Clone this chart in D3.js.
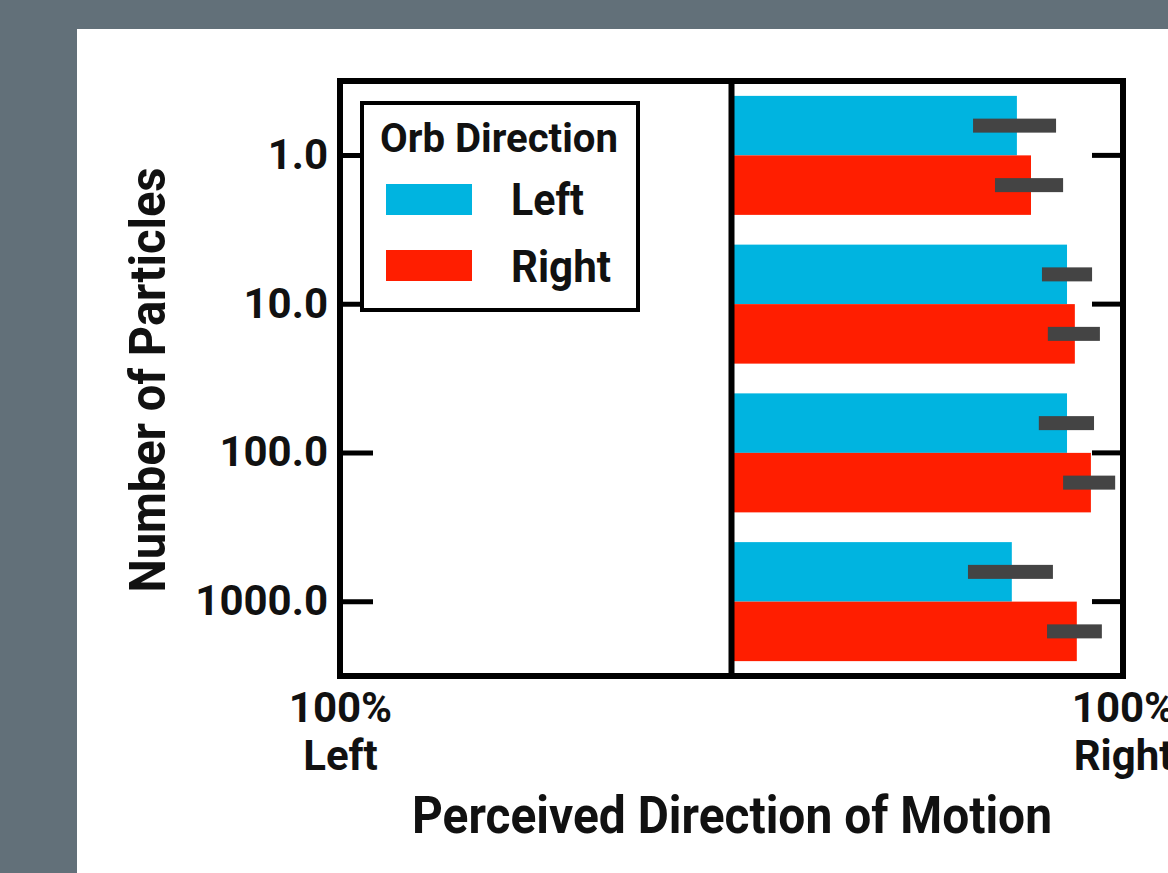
<!DOCTYPE html>
<html><head><meta charset="utf-8">
<script src="https://cdn.jsdelivr.net/npm/d3@7"></script>
<style>
html,body{margin:0;padding:0;background:#627079;overflow:hidden}
text{font-family:Roboto,"DejaVu Sans",sans-serif;font-weight:700;fill:#111}
</style>
</head><body>
<svg id="chart" width="1168" height="873"></svg>
<script>
// Number of particles per condition (y categories)
const categories = ["1.0", "10.0", "100.0", "1000.0"];
// Orb direction series
const seriesNames = ["Left", "Right"];
const seriesColors = ["#00b4e0", "#ff1e00"];
// Mean perceived direction: -1 = 100% Left, +1 = 100% Right
const leftMeans  = [0.729, 0.857, 0.857, 0.716];
const rightMeans = [0.765, 0.877, 0.918, 0.882];
// Error bar extents
const leftErrLow   = [0.617, 0.793, 0.785, 0.604];
const leftErrHigh  = [0.829, 0.921, 0.926, 0.821];
const rightErrLow  = [0.673, 0.808, 0.847, 0.806];
const rightErrHigh = [0.847, 0.941, 0.980, 0.946];
// x-axis end labels
const xTickValues = [-1, 1];
const xTickLines = [["100%", "Left"], ["100%", "Right"]];

const svg = d3.select("#chart");
svg.append("rect").attr("x", 77).attr("y", 29).attr("width", 1168 - 77).attr("height", 873 - 29).attr("fill", "#ffffff");

const L = 340, R = 1123, T = 81, B = 676;
const x = d3.scaleLinear().domain([-1, 1]).range([L, R]);
const y = d3.scaleBand().domain(categories).range([T, B]).paddingInner(0.2).paddingOuter(0.1);
const ySub = d3.scaleBand().domain(seriesNames).range([0, y.bandwidth()]);

const rows = categories.map((c, i) => ({
  cat: c,
  vals: [
    {s: "Left", m: leftMeans[i], lo: leftErrLow[i], hi: leftErrHigh[i], color: seriesColors[0]},
    {s: "Right", m: rightMeans[i], lo: rightErrLow[i], hi: rightErrHigh[i], color: seriesColors[1]}
  ]
}));

const groups = svg.append("g").selectAll("g").data(rows).join("g")
  .attr("transform", d => `translate(0,${y(d.cat)})`);

groups.selectAll("rect.bar").data(d => d.vals).join("rect").attr("class", "bar")
  .attr("x", d => x(Math.min(0, d.m)))
  .attr("width", d => Math.abs(x(d.m) - x(0)))
  .attr("y", d => ySub(d.s))
  .attr("height", ySub.bandwidth())
  .attr("fill", d => d.color);

const ebH = 14;
groups.selectAll("rect.err").data(d => d.vals).join("rect").attr("class", "err")
  .attr("x", d => x(d.lo))
  .attr("width", d => x(d.hi) - x(d.lo))
  .attr("y", d => ySub(d.s) + ySub.bandwidth() / 2 - ebH / 2)
  .attr("height", ebH)
  .attr("fill", "#444444");

// Zero line
svg.append("line").attr("x1", x(0)).attr("x2", x(0)).attr("y1", T).attr("y2", B)
  .attr("stroke", "#000").attr("stroke-width", 6);

// Left axis with inward ticks
const yAxisL = svg.append("g").attr("transform", `translate(${L},0)`)
  .call(d3.axisLeft(y).tickSize(-33).tickPadding(12));
yAxisL.select(".domain").remove();
yAxisL.selectAll(".tick line").attr("stroke", "#000").attr("stroke-width", 5);
yAxisL.selectAll(".tick text").style("font-size", "42px").style("font-family", "Roboto").style("font-weight", 700).attr("fill", "#111");

// Right axis mirrored ticks
const yAxisR = svg.append("g").attr("transform", `translate(${R},0)`)
  .call(d3.axisRight(y).tickSize(-31).tickFormat(""));
yAxisR.select(".domain").remove();
yAxisR.selectAll(".tick line").attr("stroke", "#000").attr("stroke-width", 5);

// Frame
svg.append("rect").attr("x", L).attr("y", T).attr("width", R - L).attr("height", B - T)
  .attr("fill", "none").attr("stroke", "#000").attr("stroke-width", 6);

// Bottom axis end labels
const xAxis = svg.append("g").attr("transform", `translate(0,${B})`)
  .call(d3.axisBottom(x).tickValues(xTickValues).tickSize(0).tickFormat(""));
xAxis.select(".domain").remove();
xAxis.selectAll(".tick").each(function(v, i) {
  const t = d3.select(this).append("text").attr("text-anchor", "middle")
    .style("font-size", "42px").style("font-family", "Roboto").style("font-weight", 700).attr("fill", "#111");
  xTickLines[i].forEach((ln, k) => t.append("tspan").attr("x", 0).attr("y", 46 + k * 48).text(ln));
});

// Axis titles (narrow bold lettering)
svg.append("text").attr("x", 732).attr("y", 833).attr("text-anchor", "middle")
  .attr("textLength", 640).attr("lengthAdjust", "spacingAndGlyphs")
  .style("font-size", "52px").text("Perceived Direction of Motion");
svg.append("text").attr("transform", "translate(165,380) rotate(-90)").attr("text-anchor", "middle")
  .attr("textLength", 425).attr("lengthAdjust", "spacingAndGlyphs")
  .style("font-size", "50px").text("Number of Particles");

// Legend
const lg = svg.append("g");
lg.append("rect").attr("x", 362).attr("y", 103).attr("width", 276).attr("height", 207)
  .attr("fill", "#fff").attr("stroke", "#000").attr("stroke-width", 4);
lg.append("text").attr("x", 380).attr("y", 152).attr("textLength", 238).attr("lengthAdjust", "spacingAndGlyphs")
  .style("font-size", "40px").text("Orb Direction");
const legendLabelWidths = [73, 100];
seriesNames.forEach((s, i) => {
  lg.append("rect").attr("x", 386).attr("y", 184 + i * 66).attr("width", 86).attr("height", 31).attr("fill", seriesColors[i]);
  lg.append("text").attr("x", 511).attr("y", 215 + i * 67)
    .attr("textLength", legendLabelWidths[i]).attr("lengthAdjust", "spacingAndGlyphs")
    .style("font-size", "45px").text(s);
});
</script>
</body></html>
